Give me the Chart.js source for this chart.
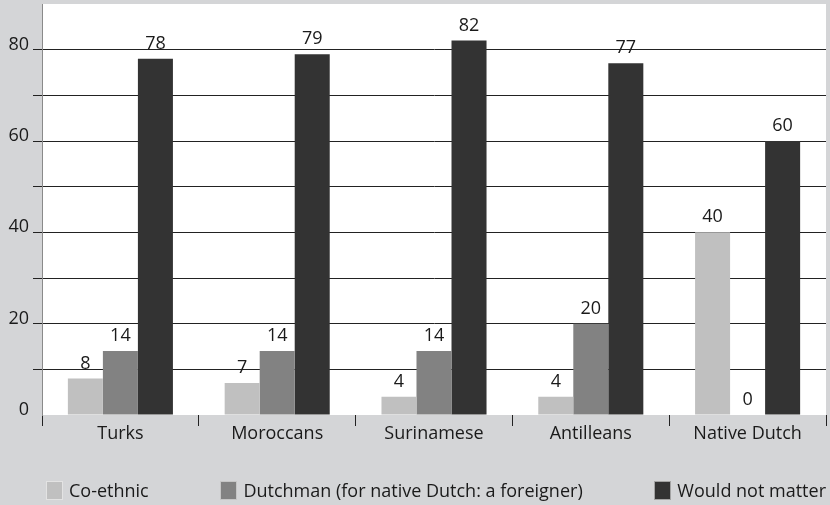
<!DOCTYPE html>
<html>
<head>
<meta charset="utf-8">
<script src="https://cdn.jsdelivr.net/npm/chart.js@4.4.1/dist/chart.umd.min.js"></script>
<style>
    body{margin:0;background:#d4d5d7;}
    .wrap{position:relative;width:830px;height:505px;}
    .legend{position:absolute;left:46px;top:478px;width:780px;display:flex;justify-content:space-between;align-items:center;white-space:nowrap;font:18px "Open Sans",sans-serif;color:#1a1a1a;}
    .legend_item{display:flex;align-items:center;white-space:nowrap;}
    .legend_box{display:inline-block;width:17px;height:19px;box-sizing:border-box;border:1px solid rgba(255,255,255,.55);margin-right:6px;}
</style>
</head>
<body>
<div class="wrap">
    <canvas id="myChart" width="830" height="505"></canvas>
    <div class="legend" id="legend"></div>
</div>
<script>
const categories = ['Turks', 'Moroccans', 'Surinamese', 'Antilleans', 'Native Dutch'];
const seriesNames = ['Co-ethnic', 'Dutchman (for native Dutch: a foreigner)', 'Would not matter'];
const coEthnic = [8, 7, 4, 4, 40];
const dutchman = [14, 14, 14, 20, 0];
const notMatter = [78, 79, 82, 77, 60];
const yTicks = [0, 20, 40, 60, 80];
const colors = ['#c0c0c0', '#828282', '#333333'];

document.addEventListener('DOMContentLoaded', () => {

    const ctx = document.getElementById('myChart').getContext('2d');

    // white plot area on the gray page
    const plotBack = {
        id: 'plotBack',
        beforeDraw(chart) {
            const a = chart.chartArea;
            chart.ctx.save();
            chart.ctx.fillStyle = '#ffffff';
            chart.ctx.fillRect(a.left, a.top, a.right - a.left, a.bottom - a.top);
            chart.ctx.restore();
        }
    };

    // value labels above the bars
    const valueLabels = {
        id: 'valueLabels',
        afterDatasetsDraw(chart) {
            const c = chart.ctx;
            c.save();
            c.font = '18px "Open Sans"';
            c.fillStyle = '#1a1a1a';
            c.textAlign = 'center';
            c.textBaseline = 'bottom';
            chart.data.datasets.forEach((ds, i) => {
                chart.getDatasetMeta(i).data.forEach((bar, j) => {
                    c.fillText(ds.data[j], bar.x, bar.y - 6);
                });
            });
            c.restore();
        }
    };

    const data = {
        labels: categories,
        datasets: [
            {label: seriesNames[0], data: coEthnic, backgroundColor: colors[0]},
            {label: seriesNames[1], data: dutchman, backgroundColor: colors[1]},
            {label: seriesNames[2], data: notMatter, backgroundColor: colors[2]}
        ]
    };

    const options = {
        responsive: false,
        animation: false,
        layout: {
            padding: {top: 4, right: 4, left: 0, bottom: 0}
        },
        datasets: {
            bar: {
                barPercentage: 1,
                categoryPercentage: 0.67
            }
        },
        plugins: {
            legend: {display: false},
            tooltip: {enabled: false}
        },
        scales: {
            x: {
                afterFit: s => { s.height = 90 },
                grid: {
                    offset: true,
                    drawOnChartArea: false,
                    tickLength: 11,
                    color: '#222'
                },
                border: {display: false},
                ticks: {
                    padding: -3,
                    color: '#1a1a1a',
                    font: {family: 'Open Sans', size: 18}
                }
            },
            y: {
                min: 0,
                max: 90,
                afterFit: s => {
                    s.width = 42
                    s.paddingTop = 0
                    s.paddingBottom = 0
                },
                grid: {
                    tickLength: 9,
                    color: c => (c.tick.value === 0 || c.tick.value === 90) ? 'rgba(0,0,0,0)' : '#222'
                },
                border: {color: '#8a8a8a'},
                ticks: {
                    stepSize: 10,
                    padding: 4,
                    labelOffset: -5,
                    color: '#1a1a1a',
                    font: {family: 'Open Sans', size: 18},
                    callback: v => yTicks.includes(v) ? v : ''
                }
            }
        }
    };

    const myChart = new Chart(ctx, {
        type: 'bar',
        data: data,
        options: options,
        plugins: [plotBack, valueLabels]
    });

    const legend = document.getElementById('legend');
    myChart.data.datasets.forEach(ds => {
        const item = document.createElement('span');
        item.className = 'legend_item';
        item.innerHTML = `<span class="legend_box" style="background:${ds.backgroundColor}"></span>${ds.label}`;
        legend.appendChild(item);
    });
})
</script>
</body>
</html>
